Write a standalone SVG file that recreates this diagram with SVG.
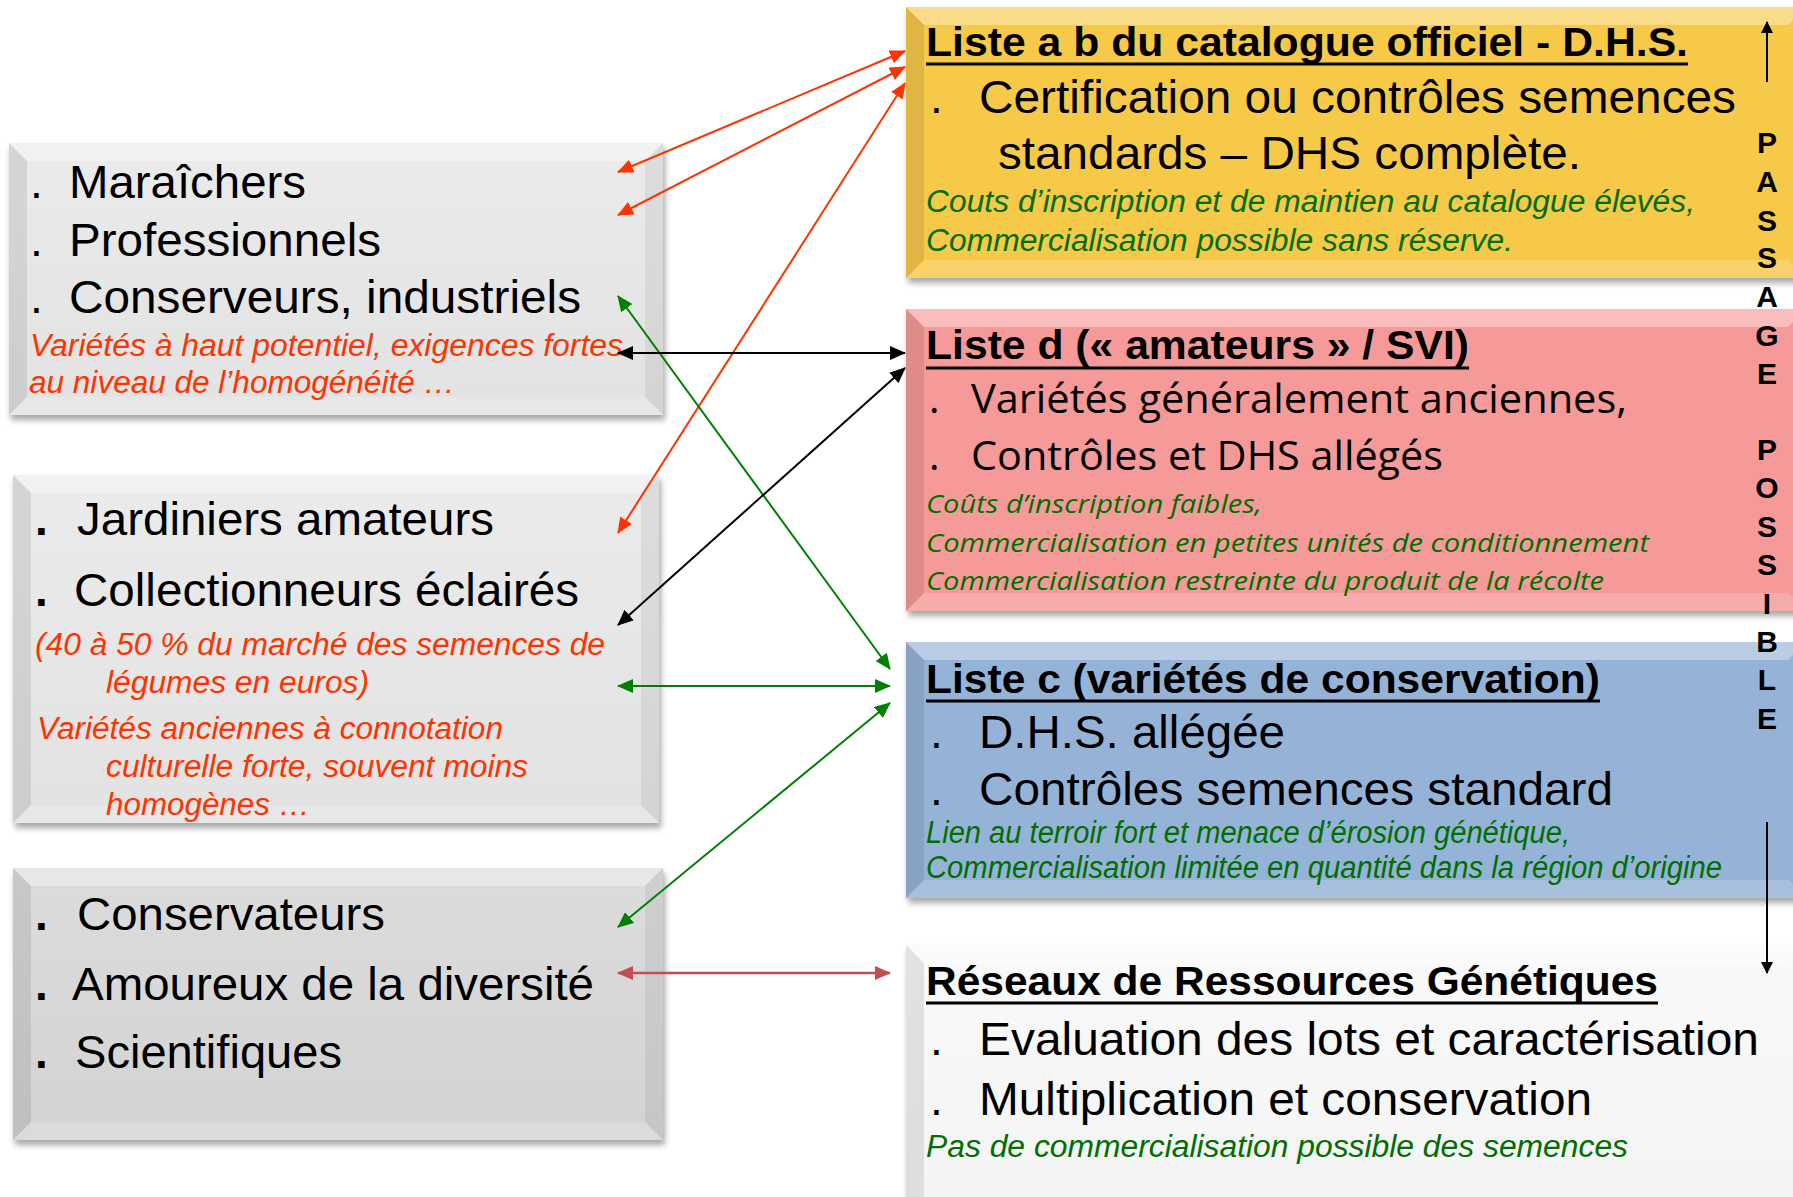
<svg xmlns="http://www.w3.org/2000/svg" width="1793" height="1197" viewBox="0 0 1793 1197">
<style>
.big{font-family:"Liberation Sans",Arial,sans-serif;font-size:46px;fill:#000}
.dot{font-family:"Liberation Sans",Arial,sans-serif;font-size:46px;fill:#000}
.dotb{font-family:"Liberation Sans",Arial,sans-serif;font-size:46px;font-weight:bold;fill:#000}
.red{font-family:"Liberation Sans",Arial,sans-serif;font-size:31px;font-style:italic;fill:#FF3300}
.grn{font-family:"Liberation Sans",Arial,sans-serif;font-size:31px;font-style:italic;fill:#006E00}
.ttl{font-family:"Liberation Sans",Arial,sans-serif;font-size:41px;font-weight:bold;fill:#000}
.cal{font-family:"Open Sans","Noto Sans",sans-serif;font-size:40px;fill:#000}
.cali{font-family:"Open Sans","Noto Sans",sans-serif;font-size:26px;font-style:italic;fill:#006E00}
.pas{font-family:"Liberation Sans",Arial,sans-serif;font-size:30px;font-weight:bold;fill:#000;text-anchor:middle}
.ul{stroke:#000;stroke-width:3}
.bt{fill:#fff;fill-opacity:0.35}
.bl{fill:#000;fill-opacity:0.09}
.br{fill:#000;fill-opacity:0.06}
.bb{fill:#fff;fill-opacity:0.18}
.c-red{stroke:#FF3300;stroke-width:2;fill:none;marker-start:url(#mr);marker-end:url(#mr)}
.c-grn{stroke:#008000;stroke-width:2;fill:none;marker-start:url(#mg);marker-end:url(#mg)}
.c-blk{stroke:#000;stroke-width:2;fill:none;marker-start:url(#mk);marker-end:url(#mk)}
.c-brn{stroke:#C0504D;stroke-width:2.5;fill:none;marker-start:url(#mb);marker-end:url(#mb)}
</style>
<defs>
<filter id="sh" x="-5%" y="-5%" width="115%" height="120%">
<feGaussianBlur in="SourceAlpha" stdDeviation="3"/>
<feOffset dx="2" dy="5" result="o"/>
<feComponentTransfer><feFuncA type="linear" slope="0.35"/></feComponentTransfer>
<feMerge><feMergeNode/><feMergeNode in="SourceGraphic"/></feMerge>
</filter>
<marker id="mr" viewBox="0 0 16 14" refX="15" refY="7" markerWidth="16" markerHeight="14" markerUnits="userSpaceOnUse" orient="auto-start-reverse"><path d="M0,0 L16,7 L0,14 z" fill="#FF3300"/></marker>
<marker id="mg" viewBox="0 0 16 14" refX="15" refY="7" markerWidth="16" markerHeight="14" markerUnits="userSpaceOnUse" orient="auto-start-reverse"><path d="M0,0 L16,7 L0,14 z" fill="#008000"/></marker>
<marker id="mk" viewBox="0 0 16 14" refX="15" refY="7" markerWidth="16" markerHeight="14" markerUnits="userSpaceOnUse" orient="auto-start-reverse"><path d="M0,0 L16,7 L0,14 z" fill="#000"/></marker>
<marker id="mb" viewBox="0 0 16 14" refX="15" refY="7" markerWidth="16" markerHeight="14" markerUnits="userSpaceOnUse" orient="auto-start-reverse"><path d="M0,0 L16,7 L0,14 z" fill="#C0504D"/></marker>
<marker id="ma" viewBox="0 0 12 12" refX="11" refY="6" markerWidth="12" markerHeight="12" markerUnits="userSpaceOnUse" orient="auto"><path d="M0,0 L12,6 L0,12 z" fill="#000"/></marker>
<linearGradient id="gGray" x1="0" y1="0" x2="0" y2="1"><stop offset="0" stop-color="#EBEBEB"/><stop offset="1" stop-color="#E2E2E2"/></linearGradient>
<linearGradient id="gGray3" x1="0" y1="0" x2="0" y2="1"><stop offset="0" stop-color="#DCDCDC"/><stop offset="1" stop-color="#D3D3D3"/></linearGradient>
<linearGradient id="gWhite" x1="0" y1="0" x2="0" y2="1"><stop offset="0" stop-color="#F9F9F9"/><stop offset="1" stop-color="#F4F4F4"/></linearGradient>
</defs>

<rect width="1793" height="1197" fill="#fff"/>

<!-- Left boxes -->
<g id="users-pro">
<rect x="9" y="143" width="654" height="272" fill="url(#gGray)" filter="url(#sh)"/>
<polygon class="bt" points="9,143 663,143 645,161 27,161"/>
<polygon class="bl" points="9,143 27,161 27,397 9,415"/>
<polygon class="br" points="663,143 663,415 645,397 645,161"/>
<polygon class="bb" points="9,415 27,397 645,397 663,415"/>
<text class="dot" x="30" y="198">.</text>
<text class="big" x="69" y="198" textLength="237" lengthAdjust="spacingAndGlyphs">Maraîchers</text>
<text class="dot" x="30" y="256">.</text>
<text class="big" x="69" y="256" textLength="312" lengthAdjust="spacingAndGlyphs">Professionnels</text>
<text class="dot" x="30" y="313">.</text>
<text class="big" x="69" y="313" textLength="512" lengthAdjust="spacingAndGlyphs">Conserveurs, industriels</text>
<text class="red" x="30" y="356" textLength="593" lengthAdjust="spacingAndGlyphs">Variétés à haut potentiel, exigences fortes</text>
<text class="red" x="29" y="393" textLength="426" lengthAdjust="spacingAndGlyphs">au niveau de l’homogénéité …</text>
</g>

<g id="users-amateurs">
<rect x="13" y="475" width="646" height="348" fill="url(#gGray)" filter="url(#sh)"/>
<polygon class="bt" points="13,475 659,475 641,493 31,493"/>
<polygon class="bl" points="13,475 31,493 31,805 13,823"/>
<polygon class="br" points="659,475 659,823 641,805 641,493"/>
<polygon class="bb" points="13,823 31,805 641,805 659,823"/>
<text class="dotb" x="35" y="535">.</text>
<text class="big" x="77" y="535" textLength="417" lengthAdjust="spacingAndGlyphs">Jardiniers amateurs</text>
<text class="dotb" x="35" y="606">.</text>
<text class="big" x="74" y="606" textLength="505" lengthAdjust="spacingAndGlyphs">Collectionneurs éclairés</text>
<text class="red" x="35" y="655" textLength="570" lengthAdjust="spacingAndGlyphs">(40 à 50 % du marché des semences de</text>
<text class="red" x="106" y="693" textLength="263" lengthAdjust="spacingAndGlyphs">légumes en euros)</text>
<text class="red" x="37" y="739" textLength="466" lengthAdjust="spacingAndGlyphs">Variétés anciennes à connotation</text>
<text class="red" x="106" y="777" textLength="422" lengthAdjust="spacingAndGlyphs">culturelle forte, souvent moins</text>
<text class="red" x="106" y="815" textLength="204" lengthAdjust="spacingAndGlyphs">homogènes …</text>
</g>

<g id="users-conservateurs">
<rect x="13" y="868" width="650" height="272" fill="url(#gGray3)" filter="url(#sh)"/>
<polygon class="bt" points="13,868 663,868 645,886 31,886"/>
<polygon class="bl" points="13,868 31,886 31,1122 13,1140"/>
<polygon class="br" points="663,868 663,1140 645,1122 645,886"/>
<polygon class="bb" points="13,1140 31,1122 645,1122 663,1140"/>
<text class="dotb" x="35" y="930">.</text>
<text class="big" x="77" y="930" textLength="308" lengthAdjust="spacingAndGlyphs">Conservateurs</text>
<text class="dotb" x="35" y="1000">.</text>
<text class="big" x="72" y="1000" textLength="522" lengthAdjust="spacingAndGlyphs">Amoureux de la diversité</text>
<text class="dotb" x="35" y="1068">.</text>
<text class="big" x="75" y="1068" textLength="267" lengthAdjust="spacingAndGlyphs">Scientifiques</text>
</g>

<!-- Right boxes -->
<g id="liste-ab">
<rect x="906" y="7" width="900" height="271" fill="#F7C948" filter="url(#sh)"/>
<polygon class="bt" points="906,7 1806,7 1788,25 924,25"/>
<polygon class="bl" points="906,7 924,25 924,260 906,278"/>
<polygon class="bb" points="906,278 924,260 1788,260 1806,278"/>
<text class="ttl" x="926" y="56" textLength="762" lengthAdjust="spacingAndGlyphs">Liste a b du catalogue officiel - D.H.S.</text>
<line class="ul" x1="926" y1="64" x2="1688" y2="64"/>
<text class="dot" x="930" y="113">.</text>
<text class="big" x="979" y="113" textLength="757" lengthAdjust="spacingAndGlyphs">Certification ou contrôles semences</text>
<text class="big" x="998" y="169" textLength="583" lengthAdjust="spacingAndGlyphs">standards – DHS complète.</text>
<text class="grn" x="926" y="212" textLength="769" lengthAdjust="spacingAndGlyphs">Couts d’inscription et de maintien au catalogue élevés,</text>
<text class="grn" x="926" y="251" textLength="587" lengthAdjust="spacingAndGlyphs">Commercialisation possible sans réserve.</text>
</g>

<g id="liste-d">
<rect x="906" y="309" width="900" height="302" fill="#F59A98" filter="url(#sh)"/>
<polygon class="bt" points="906,309 1806,309 1788,327 924,327"/>
<polygon class="bl" points="906,309 924,327 924,593 906,611"/>
<polygon class="bb" points="906,611 924,593 1788,593 1806,611"/>
<text class="ttl" x="926" y="359" textLength="543" lengthAdjust="spacingAndGlyphs">Liste d (« amateurs » / SVI)</text>
<line class="ul" x1="926" y1="368" x2="1469" y2="368"/>
<text class="cal" x="929" y="413">.</text>
<text class="cal" x="971" y="413" textLength="656" lengthAdjust="spacingAndGlyphs">Variétés généralement anciennes,</text>
<text class="cal" x="929" y="470">.</text>
<text class="cal" x="971" y="470" textLength="472" lengthAdjust="spacingAndGlyphs">Contrôles et DHS allégés</text>
<text class="cali" x="926" y="513" textLength="336" lengthAdjust="spacingAndGlyphs">Coûts d’inscription faibles,</text>
<text class="cali" x="926" y="552" textLength="723" lengthAdjust="spacingAndGlyphs">Commercialisation en petites unités de conditionnement</text>
<text class="cali" x="926" y="590" textLength="678" lengthAdjust="spacingAndGlyphs">Commercialisation restreinte du produit de la récolte</text>
</g>

<g id="liste-c">
<rect x="906" y="642" width="900" height="256" fill="#95B3D7" filter="url(#sh)"/>
<polygon class="bt" points="906,642 1806,642 1788,660 924,660"/>
<polygon class="bl" points="906,642 924,660 924,880 906,898"/>
<polygon class="bb" points="906,898 924,880 1788,880 1806,898"/>
<text class="ttl" x="926" y="693" textLength="674" lengthAdjust="spacingAndGlyphs">Liste c (variétés de conservation)</text>
<line class="ul" x1="926" y1="701" x2="1600" y2="701"/>
<text class="dot" x="930" y="748">.</text>
<text class="big" x="979" y="748" textLength="306" lengthAdjust="spacingAndGlyphs">D.H.S. allégée</text>
<text class="dot" x="930" y="805">.</text>
<text class="big" x="979" y="805" textLength="634" lengthAdjust="spacingAndGlyphs">Contrôles semences standard</text>
<text class="grn" x="926" y="843" textLength="644" lengthAdjust="spacingAndGlyphs">Lien au terroir fort et menace d’érosion génétique,</text>
<text class="grn" x="926" y="878" textLength="796" lengthAdjust="spacingAndGlyphs">Commercialisation limitée en quantité dans la région d’origine</text>
</g>

<g id="reseaux">
<rect x="906" y="945" width="900" height="270" fill="url(#gWhite)" filter="url(#sh)"/>
<polygon class="bt" points="906,945 1806,945 1788,963 924,963"/>
<polygon class="bl" points="906,945 924,963 924,1215 906,1215"/>
<text class="ttl" x="926" y="995" textLength="732" lengthAdjust="spacingAndGlyphs">Réseaux de Ressources Génétiques</text>
<line class="ul" x1="926" y1="1003" x2="1658" y2="1003"/>
<text class="dot" x="930" y="1055">.</text>
<text class="big" x="979" y="1055" textLength="780" lengthAdjust="spacingAndGlyphs">Evaluation des lots et caractérisation</text>
<text class="dot" x="930" y="1115">.</text>
<text class="big" x="979" y="1115" textLength="613" lengthAdjust="spacingAndGlyphs">Multiplication et conservation</text>
<text class="grn" x="926" y="1157" textLength="702" lengthAdjust="spacingAndGlyphs">Pas de commercialisation possible des semences</text>
</g>

<!-- Passage possible -->
<g id="passage">
<line x1="1767" y1="82" x2="1767" y2="22" stroke="#000" stroke-width="2" marker-end="url(#ma)"/>
<text class="pas" x="1767" y="153">P</text>
<text class="pas" x="1767" y="192">A</text>
<text class="pas" x="1767" y="231">S</text>
<text class="pas" x="1767" y="268">S</text>
<text class="pas" x="1767" y="307">A</text>
<text class="pas" x="1767" y="346">G</text>
<text class="pas" x="1767" y="384">E</text>
<text class="pas" x="1767" y="460">P</text>
<text class="pas" x="1767" y="498">O</text>
<text class="pas" x="1767" y="537">S</text>
<text class="pas" x="1767" y="575">S</text>
<text class="pas" x="1767" y="614">I</text>
<text class="pas" x="1767" y="652">B</text>
<text class="pas" x="1767" y="690">L</text>
<text class="pas" x="1767" y="729">E</text>
<line x1="1767" y1="822" x2="1767" y2="973" stroke="#000" stroke-width="2" marker-end="url(#ma)"/>
</g>

<!-- Connectors -->
<g id="connectors">
<line class="c-red" x1="618" y1="172" x2="905" y2="51"/>
<line class="c-red" x1="618" y1="215" x2="905" y2="67"/>
<line class="c-red" x1="618" y1="533" x2="905" y2="83"/>
<line class="c-grn" x1="618" y1="296" x2="890" y2="669"/>
<line class="c-blk" x1="618" y1="353" x2="905" y2="353"/>
<line class="c-blk" x1="618" y1="625" x2="905" y2="368"/>
<line class="c-grn" x1="618" y1="686" x2="890" y2="686"/>
<line class="c-grn" x1="618" y1="927" x2="890" y2="703"/>
<line class="c-brn" x1="618" y1="973" x2="890" y2="973"/>
</g>
</svg>
